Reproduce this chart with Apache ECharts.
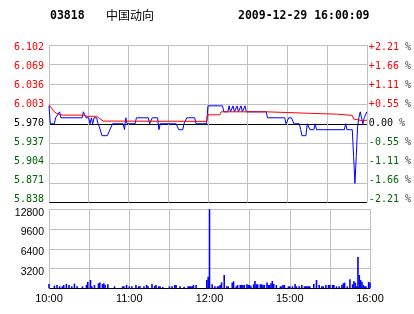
<!DOCTYPE html>
<html><head><meta charset="utf-8">
<script src="https://cdn.jsdelivr.net/npm/echarts@6/dist/echarts.min.js"></script>
<style>html,body{margin:0;padding:0;background:#fff}#c{width:414px;height:314px}</style>
</head><body><div id="c"></div>
<script>
// ---- data ----
const stockCode = '03818';
const stockName = '中国动向';
const stamp = '2009-12-29 16:00:09';
const priceMin = 5.838, priceMax = 6.102;
const leftTicks = ['5.838','5.871','5.904','5.937','5.970','6.003','6.036','6.069','6.102'];
const rightTicks = ['-2.21','-1.66','-1.11','-0.55','0.00','+0.55','+1.11','+1.66','+2.21'];
const volTicks = ['', '3200', '6400', '9600', '12800'];
const timeTickMinutes = [0, 60, 120, 180, 240];
const timeTickLabels = ['10:00', '11:00', '12:00', '15:00', '16:00'];
// [minute of session, price]
const pricePoints = [
[0,6.00],[1,5.97],[4,5.97],[5,5.98],[6,5.98],[8,5.99],[9,5.98],[25,5.98],[26,5.99],[27,5.985],[28,5.98],[30,5.98],[31,5.97],[32,5.98],[33,5.97],[34,5.98],[36,5.98],[37,5.97],[38,5.965],[40,5.95],[44,5.95],[48,5.97],[56,5.97],[57,5.96],[58,5.98],[59,5.97],[65,5.97],[66,5.98],[75,5.98],[76,5.97],[77,5.97],[78,5.98],[82,5.98],[83,5.96],[84,5.97],[96,5.97],[98,5.96],[101,5.96],[102,5.97],[104,5.98],[110,5.98],[111,5.97],[119,5.97],[120,6.00],[131,6.00],[132,5.99],[135,5.99],[136,6.00],[137,5.99],[138,5.99],[139,6.00],[140,5.99],[141,5.99],[142,6.00],[143,5.99],[144,5.99],[145,6.00],[146,5.99],[147,5.99],[148,6.00],[149,5.99],[164,5.99],[165,5.98],[178,5.98],[179,5.97],[181,5.98],[183,5.98],[185,5.97],[189,5.97],[190,5.96],[191,5.95],[194,5.95],[195,5.97],[196,5.97],[197,5.96],[200,5.96],[201,5.97],[202,5.96],[223,5.96],[224,5.97],[225,5.96],[229,5.96],[230,5.915],[231,5.87],[232,5.915],[233,5.965],[234,5.98],[235,5.99],[236,5.98],[237,5.97],[238,5.98],[240,5.99]
];
const avgPoints = [
[0,6.002],[2,5.996],[4,5.990],[6,5.987],[8,5.9855],[10,5.9845],[26,5.9845],[28,5.9825],[36,5.9825],[38,5.979],[39,5.977],[41,5.9745],[42,5.974],[119,5.974],[120,5.985],[129,5.985],[130,5.990],[164,5.990],[165,5.9876],[196,5.9876],[197,5.986],[218,5.986],[219,5.984],[229,5.984],[230,5.978],[231,5.975],[237,5.975],[240,5.976]
];
const volumeBars = [
[0,700],[4,430],[6,550],[8,320],[10,320],[11,540],[13,700],[15,540],[17,320],[19,760],[21,320],[25,320],[28,540],[29,1030],[31,1350],[32,320],[34,540],[37,810],[38,920],[40,700],[41,810],[42,540],[44,650],[49,320],[55,320],[56,320],[58,540],[60,320],[62,320],[65,540],[67,320],[68,320],[71,320],[73,540],[74,320],[77,700],[79,380],[80,540],[82,320],[83,320],[85,220],[90,320],[92,320],[94,540],[95,540],[98,320],[101,270],[104,320],[105,320],[106,320],[107,320],[108,540],[110,540],[118,1350],[119,1890],[120,12800],[122,650],[124,320],[126,320],[127,320],[128,540],[129,970],[131,2160],[133,320],[134,320],[137,920],[138,1130],[140,320],[141,540],[143,540],[144,540],[145,540],[146,540],[148,650],[149,540],[150,540],[151,320],[153,650],[154,1190],[155,650],[156,650],[158,650],[159,650],[160,540],[161,540],[163,920],[164,540],[165,540],[166,810],[167,1190],[168,700],[170,540],[173,320],[174,320],[175,540],[176,540],[179,320],[180,320],[182,320],[184,700],[185,320],[187,320],[189,540],[191,320],[192,320],[193,320],[194,320],[195,320],[198,700],[200,1350],[202,540],[204,320],[205,320],[207,540],[209,540],[210,540],[212,540],[213,540],[215,320],[217,320],[219,540],[220,810],[221,920],[223,320],[225,1460],[227,650],[228,1130],[229,920],[230,320],[231,5070],[232,2160],[233,1350],[234,1080],[235,540],[236,320],[237,320],[239,1030],[240,920]
];

// ---- styles ----
const RED = '#ff0000', GRN = '#006600', BLK = '#000000', GRID = '#c0c0c0';
const mono = 'DejaVu Sans Mono';
function tickColor(i){ return i > 4 ? RED : (i === 4 ? BLK : GRN); }
const leftRich = {}, rightRich = {};
for (let i = 0; i < 9; i++) {
  const s = (i - 4) * 0.66;
  const pad = s > 0 ? [2*s,0,0,0] : [0,0,-2*s,0];
  leftRich['s'+i] = {color: tickColor(i), fontFamily: mono, fontSize: 10, padding: pad};
  rightRich['s'+i] = {color: tickColor(i), fontFamily: mono, fontSize: 10, padding: pad};
  rightRich['u'+i] = {color: '#444', fontFamily: mono, fontSize: 10, padding: pad};
}
const volRich = {v: {color: '#000', fontFamily: 'Liberation Sans', fontSize: 10.5, padding: [7,0,0,0]}};
const splitColorsMain = [BLK, GRID, GRID, GRID, BLK, GRID, GRID, GRID, GRID];

const chart = echarts.init(document.getElementById('c'), null, {renderer: 'canvas'});
chart.setOption({
  animation: false,
  backgroundColor: '#fff',
  graphic: [
    {type:'text', left: 50, top: 10, style:{text: stockCode, font: 'bold 11.5px "DejaVu Sans Mono"', fill: '#000'}},
    {type:'text', left: 106, top: 9, style:{text: stockName, font: '12px "Noto Sans CJK SC"', fill: '#000'}},
    {type:'text', left: 238, top: 10, style:{text: stamp, font: 'bold 11.5px "DejaVu Sans Mono"', fill: '#000'}}
  ],
  grid: [
    {left: 49, width: 321, top: 45, height: 157.5},
    {left: 49, width: 321, top: 209.3, height: 79}
  ],
  xAxis: [
    {gridIndex: 0, type: 'value', min: 0, max: 240, interval: 30,
     axisLine:{show:false}, axisTick:{show:false}, axisLabel:{show:false},
     splitLine:{show:true, lineStyle:{color: GRID, width: 1}}},
    {gridIndex: 1, type: 'value', min: 0, max: 240, interval: 30,
     axisLine:{show:false}, axisTick:{show:false},
     axisLabel:{show:true, margin: 5, color: '#000', fontFamily: 'Liberation Sans', fontSize: 11,
       formatter: v => { const k = timeTickMinutes.indexOf(Math.round(v)); return k >= 0 ? timeTickLabels[k] : ''; }},
     splitLine:{show:true, lineStyle:{color: GRID, width: 1}}}
  ],
  yAxis: [
    {gridIndex: 0, type: 'value', min: priceMin, max: priceMax, show: false},
    {gridIndex: 0, type: 'value', min: 0, max: 8, interval: 1, position: 'left',
     axisLine:{show:false}, axisTick:{show:false},
     axisLabel:{margin: 5, formatter: v => { const i = Math.round(v); return '{s'+i+'|'+leftTicks[i]+'}'; }, rich: leftRich},
     splitLine:{show:true, lineStyle:{color: splitColorsMain, width: 1}}},
    {gridIndex: 0, type: 'value', min: 0, max: 8, interval: 1, position: 'right',
     axisLine:{show:false}, axisTick:{show:false},
     axisLabel:{margin: 2, formatter: v => { const i = Math.round(v); return '{s'+i+'|'+rightTicks[i]+'}{u'+i+'| %}'; }, rich: rightRich},
     splitLine:{show:false}},
    {gridIndex: 1, type: 'value', min: 0, max: 12800, interval: 3200,
     axisLine:{show:false}, axisTick:{show:false},
     axisLabel:{margin: 5, rich: volRich,
       formatter: v => { const t = volTicks[Math.round(v/3200)]; return t ? '{v|'+t+'}' : ''; }},
     splitLine:{show:true, lineStyle:{color: [BLK, GRID, GRID, GRID, GRID], width: 1}}}
  ],
  series: [
    {type: 'line', xAxisIndex: 0, yAxisIndex: 0, data: pricePoints, showSymbol: false, symbol: 'none',
     lineStyle:{color: '#0000ff', width: 1}, z: 3},
    {type: 'line', xAxisIndex: 0, yAxisIndex: 0, data: avgPoints, showSymbol: false, symbol: 'none',
     lineStyle:{color: RED, width: 1}, z: 4},
    {type: 'bar', xAxisIndex: 1, yAxisIndex: 3, data: volumeBars, barWidth: 1.6,
     itemStyle:{color: '#0000ff'}, z: 3}
  ]
});
</script></body></html>
